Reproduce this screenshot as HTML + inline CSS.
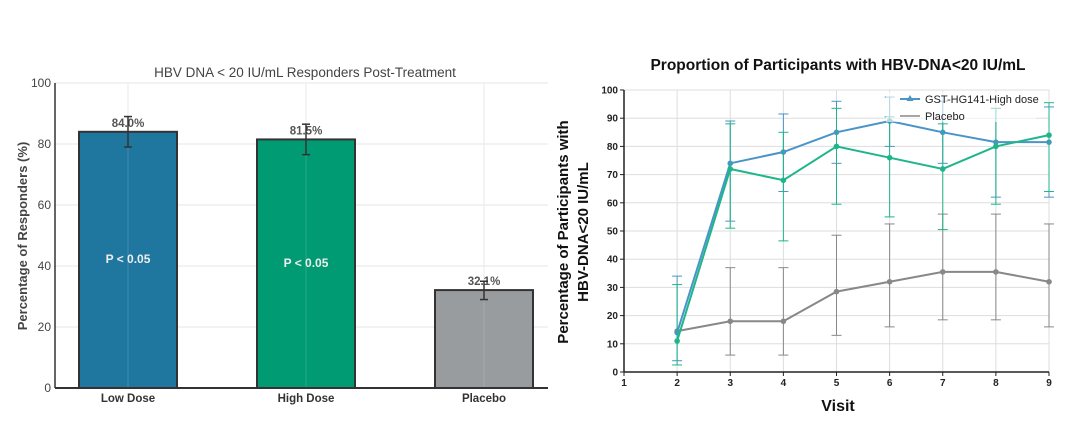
<!DOCTYPE html>
<html><head><meta charset="utf-8"><style>
html,body{margin:0;padding:0;background:#fff;width:1073px;height:435px;overflow:hidden}
svg{display:block}
</style></head><body>
<svg id="s" width="1073" height="435" xmlns="http://www.w3.org/2000/svg" font-family="Liberation Sans, sans-serif">
<rect width="1073" height="435" fill="#fff"/>
</svg>
<script>
const s=document.getElementById('s');let h='';
const L=55,R=548,T=83,B=388;
const ly=v=>B-(B-T)*v/100;
h+=`<text x="305" y="77" text-anchor="middle" font-size="13.5" fill="#444">HBV DNA &lt; 20 IU/mL Responders Post-Treatment</text>`;
for(let v=0;v<=100;v+=20){const y=ly(v);
 if(v>0)h+=`<line x1="${L}" x2="${R}" y1="${y}" y2="${y}" stroke="#e4e4e4" stroke-width="1"/>`;
 h+=`<text x="${L-4}" y="${y+4}" text-anchor="end" font-size="12" fill="#444">${v}</text>`;}
[128,306,484].forEach(x=>h+=`<line x1="${x}" x2="${x}" y1="${T}" y2="${B}" stroke="#e4e4e4"/>`);
const bars=[[128,84,'#1f77a0','84.0%',79,89,'Low Dose',true],[306,81.5,'#009b72','81.5%',76.5,86.5,'High Dose',true],[484,32.1,'#999c9e','32.1%',29,35,'Placebo',false]];
bars.forEach(b=>{const [cx,v,c,t,lo,hi,lab,p]=b;
 h+=`<rect x="${cx-49}" y="${ly(v)}" width="98" height="${B-ly(v)}" fill="${c}" stroke="#333" stroke-width="2"/>`;
 h+=`<line x1="${cx}" x2="${cx}" y1="${T}" y2="${B}" stroke="rgba(255,255,255,0.15)"/>`;
 h+=`<text x="${cx}" y="${ly(v)-5}" text-anchor="middle" font-size="11.5" font-weight="bold" fill="#555">${t}</text>`;
 h+=`<line x1="${cx}" x2="${cx}" y1="${ly(hi)}" y2="${ly(lo)}" stroke="#333" stroke-width="1.5"/><line x1="${cx-4}" x2="${cx+4}" y1="${ly(hi)}" y2="${ly(hi)}" stroke="#333" stroke-width="1.5"/><line x1="${cx-4}" x2="${cx+4}" y1="${ly(lo)}" y2="${ly(lo)}" stroke="#333" stroke-width="1.5"/>`;
 if(p)h+=`<text x="${cx}" y="${cx<200?263:267}" text-anchor="middle" font-size="12" font-weight="bold" fill="#eee">P &lt; 0.05</text>`;
 h+=`<text x="${cx}" y="${B+14}" text-anchor="middle" font-size="11.5" font-weight="bold" fill="#333">${lab}</text>`;});
h+=`<line x1="${L}" x2="${L}" y1="${T}" y2="${B}" stroke="#333" stroke-width="1.5"/><line x1="${L}" x2="${R}" y1="${B}" y2="${B}" stroke="#333" stroke-width="2"/>`;
h+=`<text transform="translate(27,236) rotate(-90)" text-anchor="middle" font-size="13" font-weight="bold" fill="#444">Percentage of Responders (%)</text>`;
const X0=624,X1=1049,RT=90,RB=372;
const rx=v=>X0+(X1-X0)*(v-1)/8, ry=v=>RB-(RB-RT)*v/100;
h+=`<text x="838" y="70" text-anchor="middle" font-size="15.5" font-weight="bold" fill="#111">Proportion of Participants with HBV-DNA&lt;20 IU/mL</text>`;
for(let v=0;v<=100;v+=10){const y=ry(v);
 if(v>0)h+=`<line x1="${X0}" x2="${X1}" y1="${y}" y2="${y}" stroke="#ddd"/>`;
 h+=`<line x1="${X0-4}" x2="${X0}" y1="${y}" y2="${y}" stroke="#222"/><text x="${X0-6}" y="${y+3.5}" text-anchor="end" font-size="10" font-weight="bold" fill="#222">${v}</text>`;}
for(let i=1;i<=9;i++){const x=rx(i);
 if(i>1)h+=`<line x1="${x}" x2="${x}" y1="${RT}" y2="${RB}" stroke="#ddd"/>`;
 h+=`<line x1="${x}" x2="${x}" y1="${RB}" y2="${RB+4}" stroke="#222"/><text x="${x}" y="${RB+14}" text-anchor="middle" font-size="10" font-weight="bold" fill="#222">${i}</text>`;}
const ser=[
 ['#888',[[2,14.5,null,null],[3,18,6,37],[4,18,6,37],[5,28.5,13,48.5],[6,32,16,52.5],[7,35.5,18.5,56],[8,35.5,18.5,56],[9,32,16,52.5]]],
 ['#4a94c8',[[2,14,4,34],[3,74,53.5,89],[4,78,64,91.5],[5,85,74,96],[6,89,80,97.5],[7,85,74,96],[8,81.5,62,93.5],[9,81.5,62,94]]],
 ['#1fb58a',[[2,11,2.5,31],[3,72,51,88],[4,68,46.5,85],[5,80,59.5,93.5],[6,76,55,90.5],[7,72,50.5,88],[8,80,59.5,93.5],[9,84,64,95.5]]]];
ser.forEach(([c,d])=>{
 d.forEach(([x,v,lo,hi])=>{if(lo==null)return;const X=rx(x);
  h+=`<g stroke="${c}" stroke-width="1"><line x1="${X}" x2="${X}" y1="${ry(hi)}" y2="${ry(lo)}"/><line x1="${X-5}" x2="${X+5}" y1="${ry(hi)}" y2="${ry(hi)}"/><line x1="${X-5}" x2="${X+5}" y1="${ry(lo)}" y2="${ry(lo)}"/></g>`;});
 h+=`<polyline fill="none" stroke="${c}" stroke-width="2" points="${d.map(p=>rx(p[0])+','+ry(p[1])).join(' ')}"/>`;
 d.forEach(p=>h+=`<circle cx="${rx(p[0])}" cy="${ry(p[1])}" r="2.8" fill="${c}"/>`);});
h+=`<line x1="${X0}" x2="${X0}" y1="${RT}" y2="${RB}" stroke="#222" stroke-width="1.5"/><line x1="${X0}" x2="${X1}" y1="${RB}" y2="${RB}" stroke="#222" stroke-width="1.5"/>`;
h+=`<rect x="886" y="92" width="150" height="30" fill="#fff" opacity="0.6"/>`;
h+=`<line x1="900" x2="920" y1="99" y2="99" stroke="#4a94c8" stroke-width="2"/><path d="M910 95 l3.5 6 h-7z" fill="#4a94c8"/><text x="925" y="103" font-size="11" fill="#222">GST-HG141-High dose</text>`;
h+=`<line x1="900" x2="920" y1="116" y2="116" stroke="#888" stroke-width="1.5"/><text x="925" y="120" font-size="11" fill="#222">Placebo</text>`;
h+=`<text x="838" y="411" text-anchor="middle" font-size="16" font-weight="bold" fill="#111">Visit</text>`;
h+=`<text transform="translate(568,232) rotate(-90)" text-anchor="middle" font-size="15" font-weight="bold" fill="#111">Percentage of Participants with</text>`;
h+=`<text transform="translate(588,232) rotate(-90)" text-anchor="middle" font-size="15" font-weight="bold" fill="#111">HBV-DNA&lt;20 IU/mL</text>`;
s.insertAdjacentHTML('beforeend',h);
</script>
</body></html>
